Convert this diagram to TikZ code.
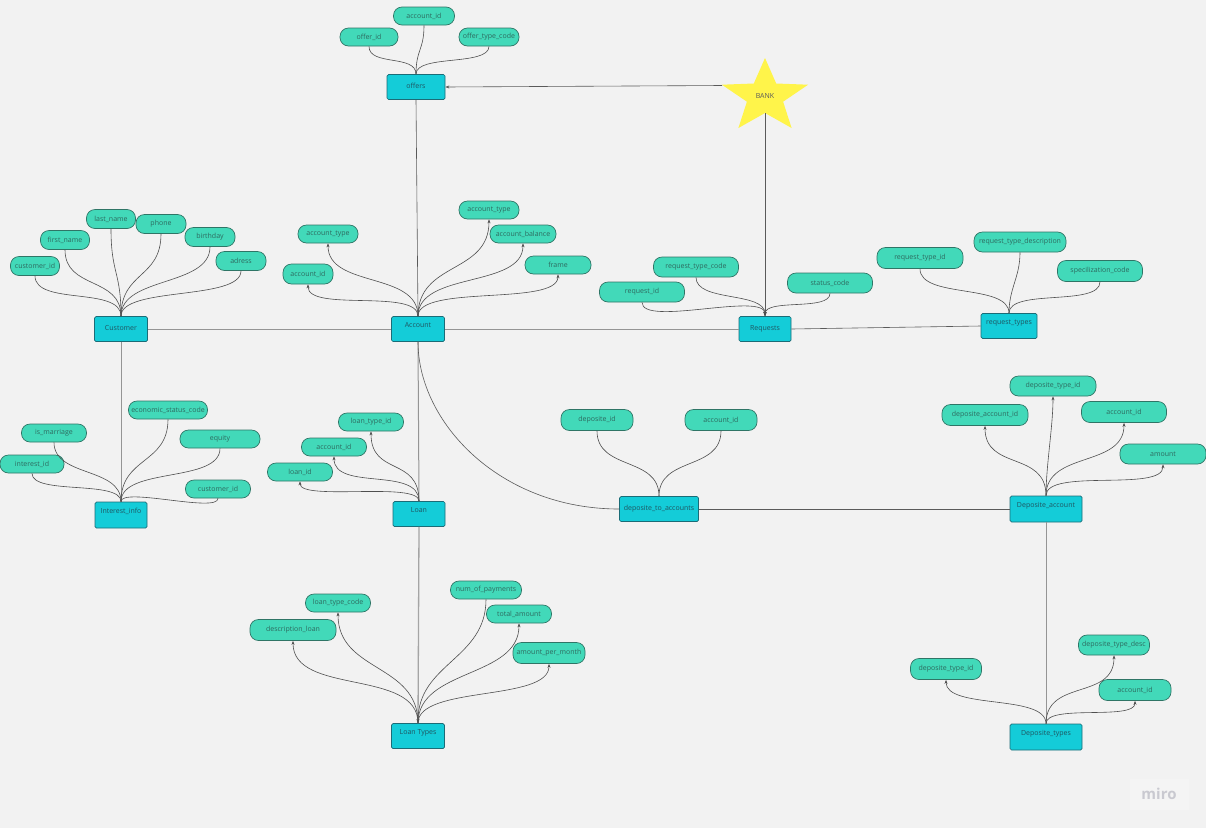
\documentclass[tikz,border=0pt]{standalone}
\usepackage{fontspec}
\setmainfont{Open Sans}
\usetikzlibrary{arrows.meta}
\definecolor{bg}{HTML}{F2F2F2}
\definecolor{attrf}{HTML}{42D9B9}
\definecolor{attrb}{HTML}{2F7566}
\definecolor{attrt}{HTML}{2E6A5F}
\definecolor{entf}{HTML}{14CCD8}
\definecolor{entb}{HTML}{1B6C77}
\definecolor{entt}{HTML}{1F5561}
\definecolor{starf}{HTML}{FFF44A}
\definecolor{connc}{HTML}{4F4F4F}
\definecolor{relc}{HTML}{959595}
\definecolor{reld}{HTML}{5A5A5A}
\definecolor{miroc}{HTML}{C9C9D0}
\definecolor{mirobg}{HTML}{F4F4F4}
\newcommand\attrline[3]{\draw[conn] (#1.south) .. controls +(0,#3) and +(0,-#3) .. (#2.north);}
\newcommand\attrin[3]{\draw[conn,-{Stealth[length=4pt,width=3pt]}] (#1.south) .. controls +(0,#3) and +(0,-#3) .. (#2.north);}
\newcommand\attrarrow[3]{\draw[conn,-{Stealth[length=4pt,width=3pt]}] (#2.north) .. controls +(0,-#3) and +(0,#3) .. (#1.south);}
\begin{document}
\begin{tikzpicture}[x=1pt,y=-1pt,
  attr/.style={draw=attrb, fill=attrf, rounded corners=8.5pt, line width=0.7pt, inner sep=0pt,
    font=\fontsize{7}{8}\selectfont, text=attrt, minimum height=19pt},
  ent/.style={draw=entb, fill=entf, line width=0.7pt, rounded corners=1.5pt, inner sep=0pt,
    font=\fontsize{7}{8}\selectfont, text=entt, text height=5pt, text depth=1.5pt, minimum height=25pt},
  hi/.style={text depth=9pt},
  conn/.style={draw=connc, line width=0.6pt},
  rel/.style={draw=relc, line width=1pt},
  reldark/.style={draw=reld, line width=0.6pt}]
\fill[bg] (0,0) rectangle (1206,828);
\useasboundingbox (0,0) rectangle (1206,828);

% ---------- entities
\node[ent, minimum width=58pt] (offers) at (416,87) {offers};
\node[ent, minimum width=53pt] (customer) at (121,329) {Customer};
\node[ent, hi, minimum width=53pt] (account) at (418,329) {Account};
\node[ent, minimum width=52pt] (requests) at (765,329) {Requests};
\node[ent, hi, minimum width=56pt] (reqtypes) at (1009,326) {request\_types};
\node[ent, hi, minimum width=52pt, minimum height=26pt] (interest) at (121,515) {Interest\_info};
\node[ent, hi, minimum width=52pt] (loan) at (419,514) {Loan};
\node[ent, minimum width=79pt] (dta) at (659,509) {deposite\_to\_accounts};
\node[ent, hi, minimum width=72pt, minimum height=26pt] (depacc) at (1046,509) {Deposite\_account};
\node[ent, hi, minimum width=53pt] (loantypes) at (418,736) {Loan Types};
\node[ent, hi, minimum width=72pt, minimum height=26pt] (deptypes) at (1046,737) {Deposite\_types};

% ---------- star
\fill[starf] (765,58) -- (753.8,83.5) -- (721.9,84.7) -- (746.9,101.7) -- (738.4,128) -- (765,113)
  -- (791.6,128) -- (783.1,101.7) -- (808.1,84.7) -- (776.2,83.5) -- cycle;
\node[font=\fontsize{7}{8}\selectfont, text=reld] (bank) at (765,96) {BANK};
\coordinate (bankL) at (722,85.5);
\coordinate (bankB) at (765,113);

% ---------- attributes
% offers
\node[attr, minimum width=61pt, minimum height=18pt] (oacc) at (424,16) {account\_id};
\node[attr, minimum width=58pt, minimum height=18pt] (oid) at (369,37) {offer\_id};
\node[attr, minimum width=60pt, minimum height=18pt] (otype) at (489,37) {offer\_type\_code};
% customer
\node[attr, minimum width=49pt] (cid) at (35,266) {customer\_id};
\node[attr, minimum width=49pt] (cfn) at (65,240) {first\_name};
\node[attr, minimum width=49pt] (cln) at (111,219) {last\_name};
\node[attr, minimum width=50pt] (cph) at (161,224) {phone};
\node[attr, minimum width=50pt] (cbd) at (210,237) {birthday};
\node[attr, minimum width=50pt] (cad) at (241,261) {adress};
% account
\node[attr, minimum width=50pt, minimum height=20pt] (aid) at (308,274) {account\_id};
\node[attr, minimum width=60pt, minimum height=18pt] (atype) at (328,234) {account\_type};
\node[attr, minimum width=60pt, minimum height=18pt] (atypeb) at (489,210) {account\_type};
\node[attr, minimum width=66pt, minimum height=18pt] (abal) at (523,234) {account\_balance};
\node[attr, minimum width=66pt, minimum height=18pt] (afr) at (558,265) {frame};
% requests
\node[attr, minimum width=85pt, minimum height=20pt] (rtc) at (696,267) {request\_type\_code};
\node[attr, minimum width=85pt, minimum height=20pt] (rid) at (642,292) {request\_id};
\node[attr, minimum width=85pt, minimum height=20pt] (rst) at (830,283) {status\_code};
% request types
\node[attr, minimum width=86pt, minimum height=21pt] (rtid) at (920,258) {request\_type\_id};
\node[attr, minimum width=92pt, minimum height=20pt] (rtdesc) at (1020,242) {request\_type\_description};
\node[attr, minimum width=85pt, minimum height=21pt] (rtsp) at (1100,271) {specilization\_code};
% interest info
\node[attr, minimum width=79pt, minimum height=18pt] (iesc) at (168,410) {economic\_status\_code};
\node[attr, minimum width=65pt, minimum height=18pt] (imar) at (54,433) {is\_marriage};
\node[attr, minimum width=64pt, minimum height=18pt] (iid) at (32,464) {interest\_id};
\node[attr, minimum width=80pt, minimum height=18pt] (ieq) at (220,439) {equity};
\node[attr, minimum width=65pt, minimum height=18pt] (icid) at (218,489) {customer\_id};
% loan
\node[attr, minimum width=65pt, minimum height=18pt] (ltid) at (371,422) {loan\_type\_id};
\node[attr, minimum width=65pt, minimum height=18pt] (lacc) at (334,447) {account\_id};
\node[attr, minimum width=65pt, minimum height=18pt] (lid) at (300,472) {loan\_id};
% deposite_to_accounts
\node[attr, minimum width=72pt, minimum height=21pt] (did) at (597,420) {deposite\_id};
\node[attr, minimum width=72pt, minimum height=21pt] (dacc) at (721,420) {account\_id};
% deposite_account
\node[attr, minimum width=86pt, minimum height=20pt] (datid) at (1053,386) {deposite\_type\_id};
\node[attr, minimum width=86pt, minimum height=21pt] (daaid) at (985,415) {deposite\_account\_id};
\node[attr, minimum width=85pt, minimum height=21pt] (daacc) at (1124,412) {account\_id};
\node[attr, minimum width=86pt, minimum height=20pt] (daam) at (1163,454) {amount};
% deposite_types
\node[attr, minimum width=71pt, minimum height=21pt] (dttid) at (946,669) {deposite\_type\_id};
\node[attr, minimum width=71pt, minimum height=20pt] (dtdesc) at (1114,645) {deposite\_type\_desc};
\node[attr, minimum width=72pt, minimum height=21pt] (dtacc) at (1135,690) {account\_id};
% loan types
\node[attr, minimum width=65pt, minimum height=18pt] (ltcode) at (338,603) {loan\_type\_code};
\node[attr, minimum width=86pt, minimum height=21pt] (ltdesc) at (293,630) {description\_loan};
\node[attr, minimum width=71pt, minimum height=18pt] (ltnum) at (486,590) {num\_of\_payments};
\node[attr, minimum width=65pt, minimum height=18pt] (lttot) at (519,614) {total\_amount};
\node[attr, minimum width=72pt, minimum height=21pt] (ltapm) at (549,653) {amount\_per\_month};

% ---------- relations
\draw[reldark,-{Stealth[length=4pt,width=3pt]}] (bankL) -- (offers.east);
\draw[reldark] (offers.south) -- (account.north);
\draw[reldark,-{Stealth[length=4pt,width=3pt]}] (bankB) -- (requests.north);
\draw[rel] (customer.east) -- (account.west);
\draw[rel] (account.east) -- (requests.west);
\draw[reldark] (requests.east) -- (reqtypes.west);
\draw[rel] (customer.south) -- (interest.north);
\draw[rel] (account.south) -- (loan.north);
\draw[reldark] (account.south) .. controls +(0,80) and +(-120,0) .. (dta.west);
\draw[reldark] (dta.east) -- (depacc.west);
\draw[rel] (depacc.south) -- (deptypes.north);
\draw[rel,line width=1.3pt,draw=relc!85] (loan.south) -- (loantypes.north);

% ---------- attribute connectors
\attrline{oid}{offers}{20}
\attrline{oacc}{offers}{25}
\attrline{otype}{offers}{20}

\attrline{cid}{customer}{30}
\attrline{cfn}{customer}{40}
\attrline{cln}{customer}{45}
\attrline{cph}{customer}{45}
\attrline{cbd}{customer}{40}
\attrline{cad}{customer}{30}

\attrarrow{aid}{account}{28}
\attrarrow{atype}{account}{45}
\attrarrow{atypeb}{account}{55}
\attrarrow{abal}{account}{45}
\attrarrow{afr}{account}{32}

\attrin{rtc}{requests}{25}
\attrin{rid}{requests}{25}
\attrin{rst}{requests}{18}

\attrline{rtid}{reqtypes}{30}
\attrline{rtdesc}{reqtypes}{25}
\attrline{rtsp}{reqtypes}{25}

\attrline{iesc}{interest}{45}
\attrline{imar}{interest}{35}
\attrline{iid}{interest}{22}
\attrline{ieq}{interest}{35}
\attrline{icid}{interest}{15}

\attrarrow{ltid}{loan}{45}
\attrarrow{lacc}{loan}{35}
\attrarrow{lid}{loan}{20}

\attrline{did}{dta}{40}
\attrline{dacc}{dta}{40}

\attrarrow{datid}{depacc}{30}
\attrarrow{daaid}{depacc}{45}
\attrarrow{daacc}{depacc}{45}
\attrarrow{daam}{depacc}{28}

\attrarrow{dttid}{deptypes}{30}
\attrarrow{dtdesc}{deptypes}{45}
\attrarrow{dtacc}{deptypes}{20}

\attrarrow{ltcode}{loantypes}{60}
\attrarrow{ltdesc}{loantypes}{55}
\attrin{ltnum}{loantypes}{60}
\attrarrow{lttot}{loantypes}{55}
\attrarrow{ltapm}{loantypes}{38}

% ---------- watermark
\fill[mirobg] (1130,779) rectangle (1189,810);
\node[font=\fontsize{15}{16}\selectfont\bfseries, text=miroc] (miro) at (1159,794) {miro};
\end{tikzpicture}
\end{document}
